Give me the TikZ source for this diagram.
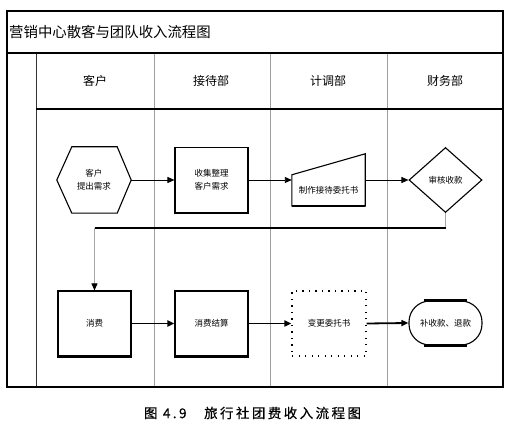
\documentclass[tikz,border=0pt]{standalone}
\usepackage{fontspec}
\newfontfamily\cjk{Noto Sans CJK SC}
\usetikzlibrary{shapes.geometric,shapes.misc,arrows.meta,calc}
\begin{document}
\begin{tikzpicture}[x=1pt,y=-1pt,
  every node/.style={font=\cjk\fontsize{8.5}{13}\selectfont, inner sep=0pt, align=center},
  lanel/.style={draw=gray!75, line width=0.8pt},
  frame/.style={draw=black, line width=1.8pt},
  hdr/.style={font=\cjk\fontsize{12}{14}\selectfont},
  procbox/.style={draw, line width=1.1pt, minimum width=73pt, minimum height=65pt},
  thinarr/.style={-{Triangle[length=7pt,width=6pt]}, line width=0.9pt},
  thickarr/.style={-{Triangle[length=7pt,width=6pt]}, line width=1.8pt},
  botline/.style={line width=2.2pt}]
\useasboundingbox (0,0) rectangle (515,430);
% frame and lanes
\draw[lanel] (154,54) -- (154,387);
\draw[lanel] (270,54) -- (270,387);
\draw[lanel] (387,54) -- (387,387);
\draw[draw=gray!40!black, line width=0.9pt] (36,54) -- (36,387);
\draw[line width=1.8pt] (36,109) -- (503,109);
\draw[line width=1.4pt] (7,53) -- (503,53);
\draw[frame] (7,11) rectangle (503,387);
% titles
\node[font=\cjk\fontsize{14.4}{16}\selectfont, anchor=west] (title) at (9,32) {营销中心散客与团队收入流程图};
\node[hdr] (h1) at (95,81) {客户};
\node[hdr] (h2) at (211,81) {接待部};
\node[hdr] (h3) at (328,81) {计调部};
\node[hdr] (h4) at (445,81) {财务部};
% row 1
\node[minimum width=74pt, minimum height=66pt] (c0) at (94,180) {客户\\提出需求};
\draw[line width=1.1pt] (c0.west) -- ($(c0.north west)+(15,0)$) -- ($(c0.north east)+(-14,0)$) -- (c0.east) -- ($(c0.south east)+(-14,0)$) -- ($(c0.south west)+(15,0)$) -- cycle;
\node[procbox] (b1) at (211.5,180) {收集整理\\客户需求};
\draw[botline] (b1.south west) -- (b1.south east);
\node[minimum width=73pt, minimum height=31pt] (t3) at (328.5,190.5) {制作接待委托书};
\draw[line width=1.1pt] (t3.south west) -- (t3.north west) -- ($(t3.north east)+(0,-21)$) -- (t3.south east) -- cycle;
\draw[botline] (t3.south west) -- (t3.south east);
\node[diamond, draw, line width=1.1pt, minimum width=73pt, minimum height=65pt] (d4) at (445.5,180) {审核收款};
\draw[thinarr] (c0.east) -- (b1.west);
\draw[thinarr] (b1.east) -- (b1.east -| t3.west);
\draw[thinarr] (t3.east |- d4.west) -- (d4.west);
% row 2
\node[procbox] (c1) at (94.5,323.5) {消费};
\draw[botline] (c1.south west) -- (c1.south east);
\node[procbox] (b2) at (211.5,323.5) {消费结算};
\draw[botline] (b2.south west) -- (b2.south east);
\node[draw, dash pattern=on 1.3pt off 5.2pt, line width=1.2pt, minimum width=74pt, minimum height=65pt] (t4) at (329,323.5) {变更委托书};
\node[draw, rounded corners=21pt, line width=1.1pt, minimum width=73pt, minimum height=44pt] (e4) at (445.5,323) {补收款、退款};
\draw[botline] ($(e4.north west)+(16,0)$) -- ($(e4.north east)+(-16,0)$);
\draw[botline] ($(e4.south west)+(16,0)$) -- ($(e4.south east)+(-16,0)$);
% return connector
\coordinate (bend) at (0,228);
\draw[draw=gray!70, line width=0.8pt] (d4.south) -- (d4.south |- bend);
\draw[line width=2pt] (d4.south |- bend) -- (c1.north |- bend);
\draw[draw=gray!70, line width=0.8pt, -{Triangle[length=7pt,width=6pt,fill=black,color=black]}] (c1.north |- bend) -- (c1.north);
\draw[thickarr] (c1.east) -- (b2.west);
\draw[thickarr] (b2.east) -- (t4.west);
\draw[thickarr] (t4.east) -- (e4.west);
% caption
\node[font=\cjk\fontsize{13.5}{15}\selectfont] (cap) at (252.5,413) {\addfontfeature{LetterSpace=18,FakeBold=0.5}图 4.9\hspace{1.3em}旅行社团费收入流程图};
\end{tikzpicture}
\end{document}
